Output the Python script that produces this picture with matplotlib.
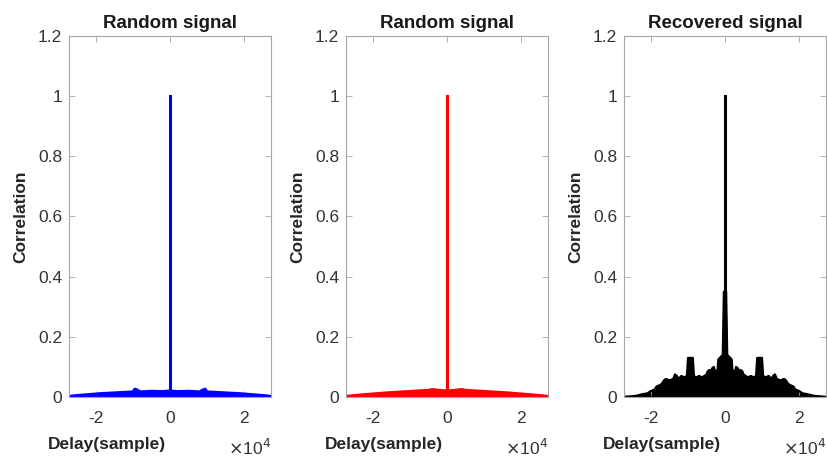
import numpy as np
import matplotlib
matplotlib.use("Agg")
import matplotlib.pyplot as plt

plt.rcParams['font.family'] = ['Liberation Sans', 'DejaVu Sans']

titles = ["Random signal", "Random signal", "Recovered signal"]
colors = ["#0000ff", "#ff0000", "#000000"]
xlim_max = 27300
yticks = [0, 0.2, 0.4, 0.6, 0.8, 1.0, 1.2]
ytick_labels = ["0", "0.2", "0.4", "0.6", "0.8", "1", "1.2"]
xticks = [-20000, 0, 20000]
xtick_labels = ["-2", "0", "2"]

# positive-side envelope (autocorrelation is symmetric)
blue_delay = [0, 2000, 5000, 8000, 9000, 9500, 10000, 13000, 16000, 19000, 22000, 25000, 27300]
blue_val = [0.020, 0.018, 0.019, 0.017, 0.024, 0.026, 0.017, 0.015, 0.013, 0.011, 0.008, 0.005, 0.002]

red_delay = [0, 2000, 4000, 5000, 8000, 12000, 16000, 20000, 24000, 27300]
red_val = [0.020, 0.022, 0.025, 0.022, 0.020, 0.017, 0.014, 0.010, 0.006, 0.002]

black_delay = [0, 300, 600, 1800, 2000, 2800, 3000, 3500, 3800, 4200, 4700, 5000,
               5600, 6200, 7000, 7800, 8400, 8700, 10000, 10300, 11000, 11800,
               12500, 13000, 13500, 14000, 15000, 16000, 16500, 17000, 17500,
               18500, 19000, 20000, 21000, 22000, 23000, 24000, 25500, 27300]
black_val = [1.0, 0.35, 0.14, 0.125, 0.09, 0.085, 0.10, 0.095, 0.08, 0.09, 0.085, 0.075,
             0.07, 0.065, 0.07, 0.065, 0.07, 0.13, 0.13, 0.07, 0.065, 0.07,
             0.06, 0.07, 0.075, 0.06, 0.055, 0.06, 0.055, 0.045, 0.04,
             0.035, 0.025, 0.02, 0.012, 0.01, 0.007, 0.004, 0.002, 0.0]

peak_value = 1.0

series = [(blue_delay, blue_val), (red_delay, red_val), (black_delay, black_val)]

fig = plt.figure(figsize=(8.28, 4.57), dpi=100)
lefts = [69 / 828, 346 / 828, 624 / 828]
W = 202 / 828
B = (457 - 397) / 457
H = 361 / 457

for i in range(3):
    ax = fig.add_axes([lefts[i], B, W, H])
    d, v = series[i]
    d = np.array(d, dtype=float)
    v = np.array(v, dtype=float)
    c = colors[i]
    if i < 2:
        xs = np.concatenate([-d[::-1], d[1:]])
        ys = np.concatenate([v[::-1], v[1:]])
        ax.fill_between(xs, 0, ys, color=c, lw=0)
        ax.plot(xs, ys, color=c, lw=2.2, solid_capstyle='butt')
    else:
        xs = np.concatenate([-d[:0:-1], d[1:]])
        ys = np.concatenate([v[:0:-1], v[1:]])
        ax.fill_between(xs, 0, ys, color=c, lw=0)
        ax.plot(xs, ys, color=c, lw=1.6)
        ax.fill_between([-d[1], d[1]], 0, [v[1], v[1]], color=c, lw=0)
    ax.plot([0, 0], [0, peak_value], color=c, lw=2.2)
    ax.plot([-xlim_max, xlim_max], [0, 0], color=c, lw=2.5)

    ax.set_xlim(-xlim_max, xlim_max)
    ax.set_ylim(0, 1.2)
    ax.set_yticks(yticks)
    ax.set_yticklabels(ytick_labels)
    ax.set_xticks(xticks)
    ax.set_xticklabels(xtick_labels)
    ax.tick_params(direction='in', length=4, width=0.6, colors='#a6a6a6',
                   labelcolor='#333333', labelsize=12.5, top=True, right=True)
    ax.tick_params(axis='x', pad=10)
    ax.tick_params(axis='y', pad=5)
    for s in ax.spines.values():
        s.set_color('#a6a6a6')
        s.set_linewidth(0.8)
    ax.set_title(titles[i], fontsize=13.5, fontweight='bold', color='#1a1a1a', pad=6)
    ax.set_ylabel("Correlation", fontsize=12.5, fontweight='bold', color='#262626')
    ax.yaxis.set_label_coords(-0.2, 0.5)
    ax.set_xlabel("Delay(sample)", fontsize=12.5, fontweight='bold', color='#262626')
    ax.xaxis.set_label_coords(0.187, -0.11)
    ax.text(1.0, -0.16, r"$\times$10$^{4}$", transform=ax.transAxes, ha='right',
            va='baseline', fontsize=12.5, color='#333333')

fig.savefig("out.png", dpi=100)
